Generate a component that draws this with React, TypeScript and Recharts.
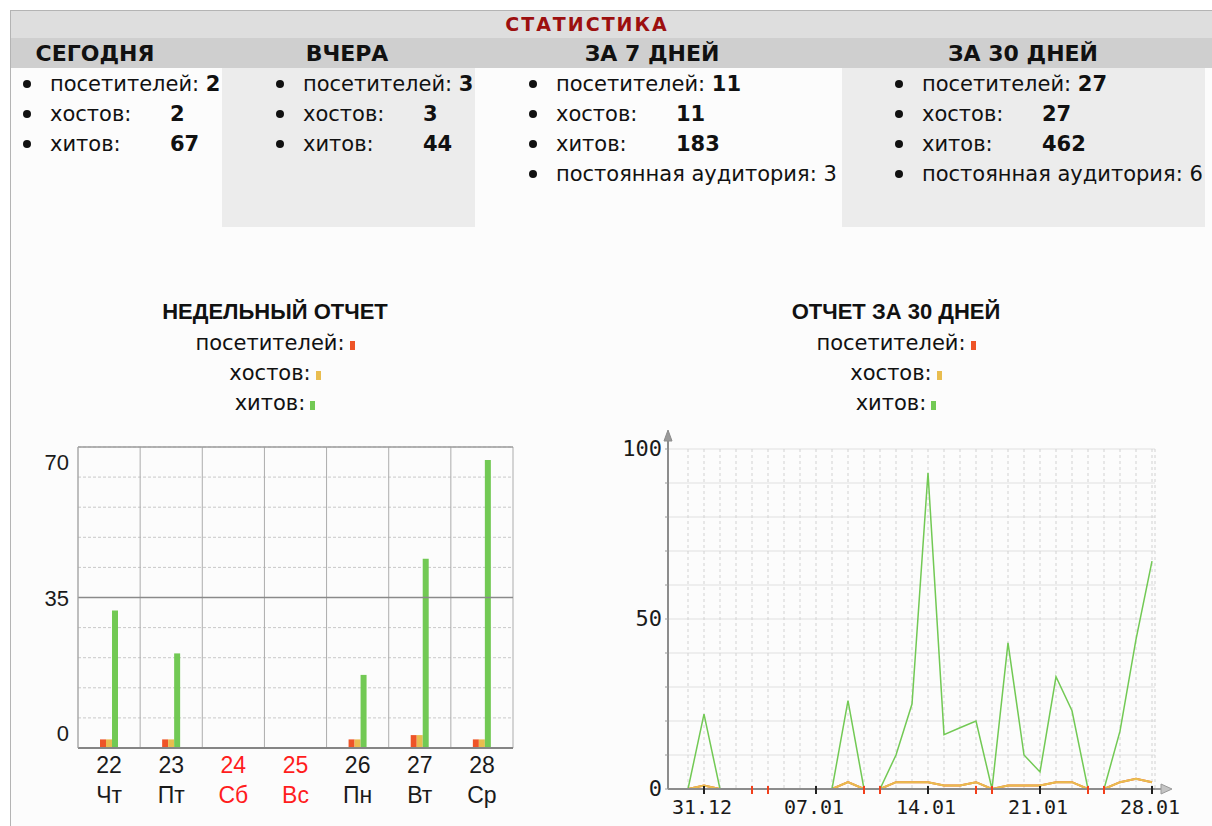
import React from "react";
import {
  BarChart,
  Bar,
  LineChart,
  Line,
  XAxis,
  YAxis,
  CartesianGrid,
  ReferenceLine,
  Legend,
} from "recharts";

// ---- summary table ----
const PERIODS = ["СЕГОДНЯ", "ВЧЕРА", "ЗА 7 ДНЕЙ", "ЗА 30 ДНЕЙ"];
const TOTAL_VISITORS = [2, 3, 11, 27];
const TOTAL_HOSTS = [2, 3, 11, 27];
const TOTAL_HITS = [67, 44, 183, 462];
const REGULAR_AUDIENCE: (number | null)[] = [null, null, 3, 6];

// ---- weekly report ----
const WEEK_DAYS = ["22", "23", "24", "25", "26", "27", "28"];
const WEEK_NAMES = ["Чт", "Пт", "Сб", "Вс", "Пн", "Вт", "Ср"];
const WEEK_VISITORS = [2, 2, 0, 0, 2, 3, 2];
const WEEK_HOSTS = [2, 2, 0, 0, 2, 3, 2];
const WEEK_HITS = [32, 22, 0, 0, 17, 44, 67];
const WEEK_TICKS = [0, 7, 14, 21, 28, 35, 42, 49, 56, 63, 70];
const WEEK_LABELS = [0, 35, 70];

// ---- 30 day report ----
const MONTH_DATES = [
  "30.12", "31.12", "01.01", "02.01", "03.01", "04.01", "05.01", "06.01",
  "07.01", "08.01", "09.01", "10.01", "11.01", "12.01", "13.01", "14.01",
  "15.01", "16.01", "17.01", "18.01", "19.01", "20.01", "21.01", "22.01",
  "23.01", "24.01", "25.01", "26.01", "27.01", "28.01",
];
const MONTH_VISITORS = [
  0, 1, 0, 0, 0, 0, 0, 0, 0, 0, 2, 0, 0, 2, 2, 2, 1, 1, 2, 0, 1, 1, 1, 2, 2,
  0, 0, 2, 3, 2,
];
const MONTH_HOSTS = [
  0, 1, 0, 0, 0, 0, 0, 0, 0, 0, 2, 0, 0, 2, 2, 2, 1, 1, 2, 0, 1, 1, 1, 2, 2,
  0, 0, 2, 3, 2,
];
const MONTH_HITS = [
  0, 22, 0, 0, 0, 0, 0, 0, 0, 0, 26, 0, 0, 10, 25, 93, 16, 18, 20, 0, 43, 10,
  5, 33, 23, 0, 0, 17, 44, 67,
];
const MONTH_TICKS = [0, 10, 20, 30, 40, 50, 60, 70, 80, 90, 100];
const MONTH_LABELED = ["31.12", "07.01", "14.01", "21.01", "28.01"];
const MONTH_WEEKENDS = ["03.01", "04.01", "10.01", "11.01", "17.01", "18.01", "24.01", "25.01"];

const SERIES_ORDER = ["visitors", "hosts", "hits"];

const SANS = '"DejaVu Sans", sans-serif';
const ARIAL = '"Liberation Sans", Arial, sans-serif';
const MONO = '"DejaVu Sans Mono", monospace';

const RED = "#ee5427";
const YELLOW = "#e9bd4f";
const GREEN = "#72c954";

const weekData = WEEK_DAYS.map((day, i) => ({
  day,
  visitors: WEEK_VISITORS[i],
  hosts: WEEK_HOSTS[i],
  hits: WEEK_HITS[i],
}));

const monthData = MONTH_DATES.map((date, i) => ({
  date,
  visitors: MONTH_VISITORS[i],
  hosts: MONTH_HOSTS[i],
  hits: MONTH_HITS[i],
}));

// column layout of the summary block
const COLUMNS = [
  { head: 95, text: 50, bg: "transparent", left: 10, width: 212 },
  { head: 347, text: 303, bg: "#ececec", left: 222, width: 253 },
  { head: 652, text: 556, bg: "transparent", left: 475, width: 367 },
  { head: 1023, text: 922, bg: "#ececec", left: 842, width: 363 },
];

function Bullet() {
  return (
    <span
      style={{
        position: "absolute",
        left: -27,
        top: 11,
        width: 8,
        height: 8,
        borderRadius: "50%",
        background: "#111",
      }}
    />
  );
}

function StatRows({ idx }: { idx: number }) {
  const col = COLUMNS[idx];
  const row = { position: "relative" as const, height: 30, lineHeight: "30px" };
  const valueCell = { position: "absolute" as const, left: 120, top: 0, fontWeight: 700 };
  return (
    <div
      style={{
        position: "absolute",
        left: col.text,
        top: 69,
        fontFamily: SANS,
        fontSize: 21,
        color: "#111",
        whiteSpace: "nowrap",
      }}
    >
      <div style={row}>
        <Bullet />
        посетителей: <b>{TOTAL_VISITORS[idx]}</b>
      </div>
      <div style={row}>
        <Bullet />
        хостов:
        <span style={valueCell}>{TOTAL_HOSTS[idx]}</span>
      </div>
      <div style={row}>
        <Bullet />
        хитов:
        <span style={valueCell}>{TOTAL_HITS[idx]}</span>
      </div>
      {REGULAR_AUDIENCE[idx] !== null && (
        <div style={row}>
          <Bullet />
          постоянная аудитория: {REGULAR_AUDIENCE[idx]}
        </div>
      )}
    </div>
  );
}

function ChartLegend({ title, payload }: any) {
  const items = [...(payload || [])].sort(
    (a: any, b: any) => SERIES_ORDER.indexOf(a.dataKey) - SERIES_ORDER.indexOf(b.dataKey)
  );
  return (
    <div style={{ textAlign: "center", color: "#111" }}>
      <div
        style={{
          fontFamily: ARIAL,
          fontWeight: 700,
          fontSize: 22,
          height: 32,
          lineHeight: "32px",
        }}
      >
        {title}
      </div>
      {items.map((p: any) => (
        <div
          key={p.value}
          style={{ fontFamily: SANS, fontSize: 21, height: 30, lineHeight: "30px" }}
        >
          {p.value}
          <span
            style={{
              display: "inline-block",
              width: 5,
              height: 9,
              marginLeft: 5,
              background: p.color,
            }}
          />
        </div>
      ))}
    </div>
  );
}

function WeekXTick({ x, y, payload }: any) {
  const i = payload.index;
  const weekend = WEEK_NAMES[i] === "Сб" || WEEK_NAMES[i] === "Вс";
  const fill = weekend ? "#ff1d1d" : "#1a1a1a";
  return (
    <g>
      <text x={x} y={y + 25} textAnchor="middle" fontFamily={ARIAL} fontSize={23} fill={fill}>
        {payload.value}
      </text>
      <text x={x} y={y + 55} textAnchor="middle" fontFamily={ARIAL} fontSize={23} fill={fill}>
        {WEEK_NAMES[i]}
      </text>
    </g>
  );
}

function WeekYTick({ x, y, payload }: any) {
  const v = payload.value;
  if (!WEEK_LABELS.includes(v)) return <g />;
  const dy = v === 70 ? 23 : v === 0 ? -7 : 8;
  return (
    <text x={x} y={y + dy} textAnchor="end" fontFamily={ARIAL} fontSize={22} fill="#1a1a1a">
      {v}
    </text>
  );
}

function MonthXTick({ x, y, payload }: any) {
  const d = payload.value;
  const weekend = MONTH_WEEKENDS.includes(d);
  const labeled = MONTH_LABELED.includes(d);
  return (
    <g>
      {(weekend || labeled) && (
        <line
          x1={x}
          x2={x}
          y1={y - 3}
          y2={y + 5}
          stroke={weekend ? "#f2401c" : "#222"}
          strokeWidth={2}
        />
      )}
      {labeled && (
        <text x={x - 2} y={y + 25} textAnchor="middle" fontFamily={MONO} fontSize={20} fill="#1a1a1a">
          {d}
        </text>
      )}
    </g>
  );
}

function MonthYTick({ x, y, payload }: any) {
  const v = payload.value;
  if (v % 50 !== 0) return <g />;
  return (
    <text x={x} y={y + 7} textAnchor="end" fontFamily={MONO} fontSize={22} fill="#1a1a1a">
      {v}
    </text>
  );
}

function XArrow({ viewBox }: any) {
  if (!viewBox) return null;
  const ex = viewBox.x + viewBox.width;
  const ey = viewBox.y;
  return (
    <g>
      <line x1={ex} x2={ex + 8} y1={ey} y2={ey} stroke="#9a9a9a" strokeWidth={2} />
      <polygon
        points={`${ex + 6},${ey - 5} ${ex + 17},${ey} ${ex + 6},${ey + 5}`}
        fill="#c4c4c4"
        stroke="#9a9a9a"
      />
    </g>
  );
}

function YArrow({ viewBox }: any) {
  if (!viewBox) return null;
  const ax = viewBox.x + viewBox.width;
  const ay = viewBox.y;
  return (
    <g>
      <line x1={ax} x2={ax} y1={ay} y2={ay - 10} stroke="#8c8c8c" strokeWidth={2} />
      <polygon
        points={`${ax - 4},${ay - 8} ${ax},${ay - 19} ${ax + 4},${ay - 8}`}
        fill="#9a9a9a"
        stroke="#8c8c8c"
      />
    </g>
  );
}

export default function App() {
  return (
    <div
      style={{
        position: "absolute",
        left: 0,
        top: 0,
        width: 1212,
        height: 826,
        overflow: "hidden",
        background: "#ffffff",
      }}
    >
      {/* frame */}
      <div
        style={{
          position: "absolute",
          left: 10,
          top: 10,
          width: 1220,
          height: 830,
          borderLeft: "1px solid #b4b4b4",
          borderTop: "1px solid #b4b4b4",
          background: "#fcfcfc",
        }}
      />
      <div style={{ position: "absolute", left: 11, top: 11, width: 1201, height: 27, background: "#dedede" }} />
      <div
        style={{
          position: "absolute",
          left: 387,
          top: 11,
          width: 400,
          height: 27,
          lineHeight: "27px",
          textAlign: "center",
          fontFamily: SANS,
          fontWeight: 700,
          fontSize: 19,
          letterSpacing: 2,
          color: "#9c0f0f",
        }}
      >
        СТАТИСТИКА
      </div>
      <div style={{ position: "absolute", left: 11, top: 38, width: 1201, height: 30, background: "#cfcfcf" }} />

      {COLUMNS.map((c, i) => (
        <React.Fragment key={PERIODS[i]}>
          <div
            style={{
              position: "absolute",
              left: c.left,
              top: 68,
              width: c.width,
              height: 159,
              background: c.bg,
            }}
          />
          <div
            style={{
              position: "absolute",
              left: c.head - 120,
              top: 39,
              width: 240,
              height: 30,
              lineHeight: "30px",
              textAlign: "center",
              fontFamily: SANS,
              fontWeight: 700,
              fontSize: 22,
              color: "#111",
            }}
          >
            {PERIODS[i]}
          </div>
          <StatRows idx={i} />
        </React.Fragment>
      ))}

      {/* weekly report */}
      <div style={{ position: "absolute", left: 20, top: 290 }}>
        <BarChart
          width={520}
          height={530}
          data={weekData}
          margin={{ top: 157, right: 27, bottom: 12, left: 0 }}
          barSize={6}
          barGap={0}
        >
          <CartesianGrid vertical={false} stroke="#c9c9c9" strokeDasharray="3 2" />
          <CartesianGrid
            horizontal={false}
            stroke="#acacac"
            verticalCoordinatesGenerator={({ offset, width }: any) => {
              const w = offset.width ?? width - offset.left - offset.right;
              return Array.from(
                { length: WEEK_DAYS.length + 1 },
                (_, k) => offset.left + (k * w) / WEEK_DAYS.length
              );
            }}
          />
          <ReferenceLine y={35} stroke="#8a8a8a" strokeWidth={1.5} />
          <ReferenceLine y={70} stroke="#9c9c9c" strokeWidth={1.5} />
          <XAxis
            dataKey="day"
            height={60}
            interval={0}
            tickLine={false}
            tickSize={0}
            tickMargin={0}
            axisLine={{ stroke: "#858585", strokeWidth: 2 }}
            tick={<WeekXTick />}
          />
          <YAxis
            domain={[0, 70]}
            ticks={WEEK_TICKS}
            interval={0}
            width={58}
            tickLine={false}
            tickSize={0}
            tickMargin={9}
            axisLine={{ stroke: "#a8a8a8" }}
            tick={<WeekYTick />}
          />
          <Legend
            layout="vertical"
            align="center"
            verticalAlign="middle"
            wrapperStyle={{ top: 6, left: 0, width: 510 }}
            content={(props: any) => (
              <ChartLegend title="НЕДЕЛЬНЫЙ ОТЧЕТ" payload={props.payload} />
            )}
          />
          <Bar dataKey="visitors" name="посетителей:" fill={RED} minPointSize={1} isAnimationActive={false} />
          <Bar dataKey="hosts" name="хостов:" fill={YELLOW} minPointSize={1} isAnimationActive={false} />
          <Bar dataKey="hits" name="хитов:" fill={GREEN} minPointSize={1} isAnimationActive={false} />
        </BarChart>
      </div>

      {/* 30 day report */}
      <div style={{ position: "absolute", left: 620, top: 290 }}>
        <LineChart
          width={592}
          height={530}
          data={monthData}
          margin={{ top: 159, right: 57, bottom: 1, left: 0 }}
        >
          <CartesianGrid vertical={false} stroke="#e0e0e0" />
          <CartesianGrid horizontal={false} stroke="#d2d2d2" strokeDasharray="3 3" />
          <XAxis
            dataKey="date"
            interval={0}
            padding={{ left: 20, right: 3 }}
            height={30}
            tickLine={false}
            tickSize={0}
            tickMargin={0}
            axisLine={{ stroke: "#8c8c8c", strokeWidth: 2 }}
            tick={<MonthXTick />}
            label={(props: any) => <XArrow {...props} />}
          />
          <YAxis
            domain={[0, 100]}
            ticks={MONTH_TICKS}
            interval={0}
            width={48}
            tickSize={3}
            tickMargin={3}
            tickLine={{ stroke: "#9a9a9a" }}
            axisLine={{ stroke: "#8c8c8c", strokeWidth: 2 }}
            tick={<MonthYTick />}
            label={(props: any) => <YArrow {...props} />}
          />
          <Legend
            layout="vertical"
            align="center"
            verticalAlign="middle"
            wrapperStyle={{ top: 6, left: 0, width: 552 }}
            content={(props: any) => (
              <ChartLegend title="ОТЧЕТ ЗА 30 ДНЕЙ" payload={props.payload} />
            )}
          />
          <Line
            dataKey="visitors"
            name="посетителей:"
            type="linear"
            stroke={RED}
            strokeWidth={2}
            dot={false}
            isAnimationActive={false}
          />
          <Line
            dataKey="hosts"
            name="хостов:"
            type="linear"
            stroke={YELLOW}
            strokeWidth={2}
            dot={false}
            isAnimationActive={false}
          />
          <Line
            dataKey="hits"
            name="хитов:"
            type="linear"
            stroke={GREEN}
            strokeWidth={1.5}
            dot={false}
            isAnimationActive={false}
          />
        </LineChart>
      </div>
    </div>
  );
}
